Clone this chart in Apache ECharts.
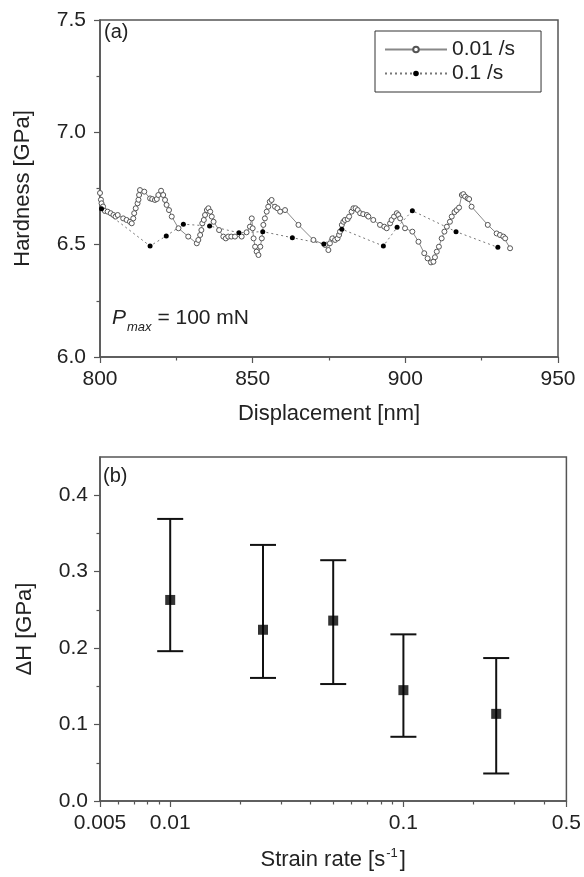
<html>
<head>
    <meta charset="utf-8">
    <script type="text/javascript" src="https://cdn.jsdelivr.net/npm/echarts@6/dist/echarts.min.js"></script>
    <title>hardness_strain_rate</title>
    <style>
        html, body {
            margin: 0;
            padding: 0;
            background: #fff;
        }
        #main {
            width: 584px;
            height: 877px;
        }
    </style>
</head>

<body>

<div id="main"></div>

<script type="text/javascript">
    // (a) hardness vs displacement, 0.01 /s
    var disp001 = [800.0, 800.3, 800.5, 801.0, 801.6, 802.5, 803.5, 804.4, 805.1, 805.8, 807.6, 808.7, 809.8, 810.4,
        810.9, 811.2, 811.7, 812.3, 812.6, 812.8, 813.1, 814.5, 816.4, 817.1, 818.0, 818.6, 819.1, 820.0, 820.7,
        821.3, 821.8, 822.6, 823.5, 825.7, 828.9, 831.7, 832.2, 832.8, 833.2, 833.5, 834.0, 834.4, 835.0, 835.5,
        836.1, 836.6, 837.2, 839.0, 840.4, 841.2, 842.0, 843.0, 844.2, 846.4, 848.0, 849.1, 849.7, 850.0, 850.3,
        850.8, 851.3, 851.9, 852.5, 853.0, 853.5, 854.0, 854.6, 855.1, 855.6, 856.2, 857.3, 858.1, 859.0, 860.6,
        865.0, 869.9, 873.7, 874.8, 875.3, 876.1, 877.0, 877.8, 878.3, 878.6, 879.2, 879.7, 880.2, 881.1, 881.6,
        882.4, 883.0, 883.7, 884.4, 885.2, 886.2, 887.4, 887.9, 889.5, 891.7, 893.1, 893.9, 895.0, 895.5, 896.3,
        897.2, 897.7, 898.3, 899.9, 902.3, 904.3, 906.2, 907.3, 908.4, 909.2, 909.7, 910.3, 911.0, 911.9, 912.8,
        913.6, 914.6, 915.2, 916.1, 916.8, 917.6, 918.5, 919.0, 919.6, 920.4, 920.9, 921.7, 927.0, 929.9, 931.0,
        932.1, 932.7, 934.3];
    var hard001 = [6.730, 6.700, 6.684, 6.670, 6.650, 6.647, 6.640, 6.632, 6.625, 6.632, 6.617, 6.610, 6.602, 6.595,
        6.617, 6.640, 6.662, 6.684, 6.700, 6.721, 6.743, 6.736, 6.706, 6.703, 6.699, 6.703, 6.721, 6.740, 6.721,
        6.699, 6.677, 6.654, 6.625, 6.573, 6.536, 6.506, 6.521, 6.543, 6.565, 6.595, 6.610, 6.632, 6.654, 6.662,
        6.647, 6.625, 6.602, 6.565, 6.536, 6.528, 6.536, 6.536, 6.536, 6.536, 6.555, 6.580, 6.617, 6.573, 6.528,
        6.491, 6.469, 6.454, 6.491, 6.528, 6.588, 6.617, 6.647, 6.669, 6.691, 6.699, 6.669, 6.662, 6.647, 6.654,
        6.588, 6.521, 6.499, 6.476, 6.506, 6.528, 6.521, 6.528, 6.543, 6.558, 6.588, 6.602, 6.610, 6.614, 6.625,
        6.647, 6.662, 6.662, 6.654, 6.640, 6.636, 6.632, 6.625, 6.610, 6.588, 6.580, 6.573, 6.595, 6.610, 6.625,
        6.640, 6.632, 6.617, 6.573, 6.558, 6.513, 6.462, 6.439, 6.421, 6.424, 6.444, 6.469, 6.491, 6.528, 6.558,
        6.580, 6.602, 6.625, 6.645, 6.654, 6.665, 6.721, 6.725, 6.714, 6.706, 6.703, 6.669, 6.588, 6.550, 6.543,
        6.536, 6.528, 6.484];

    // (a) 0.1 /s
    var disp01 = [800.5, 816.4, 821.7, 827.3, 835.9, 845.5, 853.3, 863.0, 873.3, 879.2, 892.8, 897.3, 902.3, 916.6, 930.3];
    var hard01 = [6.660, 6.494, 6.539, 6.591, 6.583, 6.553, 6.558, 6.531, 6.503, 6.569, 6.494, 6.577, 6.651, 6.558, 6.488];

    // (b) delta H vs strain rate
    var rates = [0.01, 0.025, 0.05, 0.1, 0.25];
    var dH = [0.263, 0.224, 0.236, 0.145, 0.114];
    var dHLow = [0.196, 0.161, 0.153, 0.084, 0.036];
    var dHHigh = [0.369, 0.335, 0.315, 0.218, 0.187];

    var rateTicks = [0.005, 0.01, 0.1, 0.5];
    var rateTickLabels = ['0.005', '0.01', '0.1', '0.5'];
    var rateMinorTicks = [0.006, 0.007, 0.008, 0.009, 0.02, 0.03, 0.04, 0.05, 0.06, 0.07, 0.08, 0.09, 0.2, 0.3, 0.4];
    var dHTicks = [0, 0.1, 0.2, 0.3, 0.4];
    var dHMinorTicks = [0.05, 0.15, 0.25, 0.35];

    var lg = function (v) { return Math.log10(v); };
    var font = 'Liberation Sans, Arial, sans-serif';
    var txt = '#222';
    var axisCol = '#555';

    function pairs(xs, ys) {
        return xs.map(function (x, i) { return [x, ys[i]]; });
    }

    var chart = echarts.init(document.getElementById('main'), null, {renderer: 'canvas'});

    var axisLine = {lineStyle: {color: axisCol, width: 1.5}};
    var tick = {length: 6, lineStyle: {color: axisCol, width: 1.2}};
    var minor = {show: true, splitNumber: 2, length: 3.5, lineStyle: {color: axisCol, width: 1.2}};

    var option = {
        animation: false,
        textStyle: {fontFamily: font},
        grid: [
            {left: 100, top: 20, width: 458, height: 337, show: true, borderColor: axisCol, borderWidth: 1.5},
            {left: 100, top: 457, width: 468, height: 344, show: true, borderColor: axisCol, borderWidth: 1.5}
        ],
        legend: {
            data: ['0.01 /s', '0.1 /s'],
            orient: 'vertical',
            left: 375,
            top: 31,
            padding: [8, 26, 8, 9],
            itemGap: 3,
            itemWidth: 62,
            itemHeight: 7,
            borderColor: '#333',
            borderWidth: 1,
            textStyle: {fontSize: 21, color: txt, fontFamily: font}
        },
        xAxis: [
            {
                gridIndex: 0, type: 'value', min: 800, max: 950, interval: 50,
                name: 'Displacement [nm]', nameLocation: 'middle', nameGap: 46,
                nameTextStyle: {fontSize: 22, color: txt},
                axisLine: axisLine, axisTick: tick, minorTick: minor,
                axisLabel: {fontSize: 21, color: txt, margin: 12},
                splitLine: {show: false}, minorSplitLine: {show: false}
            },
            {
                gridIndex: 1, type: 'value', position: 'bottom', min: lg(0.005), max: lg(0.5),
                name: 'Strain rate [s{sup|-1}]', nameLocation: 'middle', nameGap: 46,
                nameTextStyle: {
                    fontSize: 22, color: txt, lineHeight: 26,
                    rich: {sup: {fontSize: 13, color: txt, verticalAlign: 'top', lineHeight: 26, padding: [0, 2, 0, 1]}}
                },
                axisLine: axisLine,
                axisTick: {length: 6, lineStyle: {color: axisCol, width: 1.2}, customValues: rateTicks.map(lg)},
                axisLabel: {
                    fontSize: 21, color: txt, margin: 12,
                    customValues: rateTicks.map(lg),
                    formatter: function (v) {
                        var best = 0;
                        rateTicks.forEach(function (t, i) {
                            if (Math.abs(lg(t) - v) < Math.abs(lg(rateTicks[best]) - v)) best = i;
                        });
                        return rateTickLabels[best];
                    }
                },
                splitLine: {show: false}
            },
            {
                gridIndex: 1, type: 'value', position: 'bottom', min: lg(0.005), max: lg(0.5),
                axisLine: {show: false},
                axisTick: {length: 3.5, lineStyle: {color: axisCol, width: 1.2}, customValues: rateMinorTicks.map(lg)},
                axisLabel: {show: false, customValues: rateMinorTicks.map(lg)},
                splitLine: {show: false}
            }
        ],
        yAxis: [
            {
                gridIndex: 0, type: 'value', min: 6.0, max: 7.5, interval: 0.5,
                name: 'Hardness [GPa]', nameLocation: 'middle', nameGap: 66,
                nameTextStyle: {fontSize: 22, color: txt},
                axisLine: axisLine, axisTick: tick, minorTick: minor,
                axisLabel: {fontSize: 21, color: txt, margin: 14, formatter: function (v) { return v.toFixed(1); }},
                splitLine: {show: false}, minorSplitLine: {show: false}
            },
            {
                gridIndex: 1, type: 'value', position: 'left', min: 0, max: 0.45,
                name: '\u0394H [GPa]', nameLocation: 'middle', nameGap: 64,
                nameTextStyle: {fontSize: 22, color: txt},
                axisLine: axisLine,
                axisTick: {length: 6, lineStyle: {color: axisCol, width: 1.2}, customValues: dHTicks},
                axisLabel: {
                    fontSize: 21, color: txt, margin: 12, customValues: dHTicks,
                    formatter: function (v) { return v.toFixed(1); }
                },
                splitLine: {show: false}
            },
            {
                gridIndex: 1, type: 'value', position: 'left', min: 0, max: 0.45,
                axisLine: {show: false},
                axisTick: {length: 3.5, lineStyle: {color: axisCol, width: 1.2}, customValues: dHMinorTicks},
                axisLabel: {show: false, customValues: dHMinorTicks},
                splitLine: {show: false}
            }
        ],
        graphic: [
            {type: 'text', left: 104, top: 22, style: {text: '(a)', fontSize: 20, fill: txt, fontFamily: font}},
            {type: 'text', left: 103, top: 466, style: {text: '(b)', fontSize: 20, fill: txt, fontFamily: font}},
            {
                type: 'text', left: 112, top: 308,
                style: {
                    text: '{p|P}{s|max}{n| = 100 mN}',
                    fontFamily: font, fill: txt,
                    rich: {
                        p: {fontSize: 21, fontStyle: 'italic', fill: txt, lineHeight: 30, verticalAlign: 'middle'},
                        s: {fontSize: 13, fontStyle: 'italic', fill: txt, lineHeight: 30, verticalAlign: 'bottom', padding: [0, 0, 0, 1]},
                        n: {fontSize: 21, fill: txt, lineHeight: 30, verticalAlign: 'middle'}
                    }
                }
            }
        ],
        series: [
            {
                name: '0.01 /s', type: 'line', xAxisIndex: 0, yAxisIndex: 0,
                data: pairs(disp001, hard001),
                symbol: 'circle', symbolSize: 5,
                itemStyle: {color: '#fff', borderColor: '#555', borderWidth: 1},
                lineStyle: {color: '#888', width: 1}
            },
            {
                name: '0.1 /s', type: 'line', xAxisIndex: 0, yAxisIndex: 0,
                data: pairs(disp01, hard01),
                symbol: 'circle', symbolSize: 5,
                itemStyle: {color: '#000', borderColor: '#000', borderWidth: 0},
                lineStyle: {color: '#777', width: 1, type: [2, 3]}
            },
            {
                type: 'custom', xAxisIndex: 1, yAxisIndex: 1,
                data: rates.map(function (r, i) { return [lg(r), dHLow[i], dHHigh[i]]; }),
                renderItem: function (params, api) {
                    var x = api.value(0);
                    var top = api.coord([x, api.value(2)]);
                    var bot = api.coord([x, api.value(1)]);
                    var w = 13;
                    var st = {stroke: '#111', lineWidth: 2};
                    return {
                        type: 'group',
                        children: [
                            {type: 'line', shape: {x1: top[0], y1: top[1], x2: bot[0], y2: bot[1]}, style: st},
                            {type: 'line', shape: {x1: top[0] - w, y1: top[1], x2: top[0] + w, y2: top[1]}, style: st},
                            {type: 'line', shape: {x1: bot[0] - w, y1: bot[1], x2: bot[0] + w, y2: bot[1]}, style: st}
                        ]
                    };
                },
                z: 2
            },
            {
                type: 'scatter', xAxisIndex: 1, yAxisIndex: 1,
                data: rates.map(function (r, i) { return [lg(r), dH[i]]; }),
                symbol: 'rect', symbolSize: 10,
                itemStyle: {color: '#000'},
                z: 3
            }
        ]
    };
    chart.setOption(option);
</script>

</body>

</html>
